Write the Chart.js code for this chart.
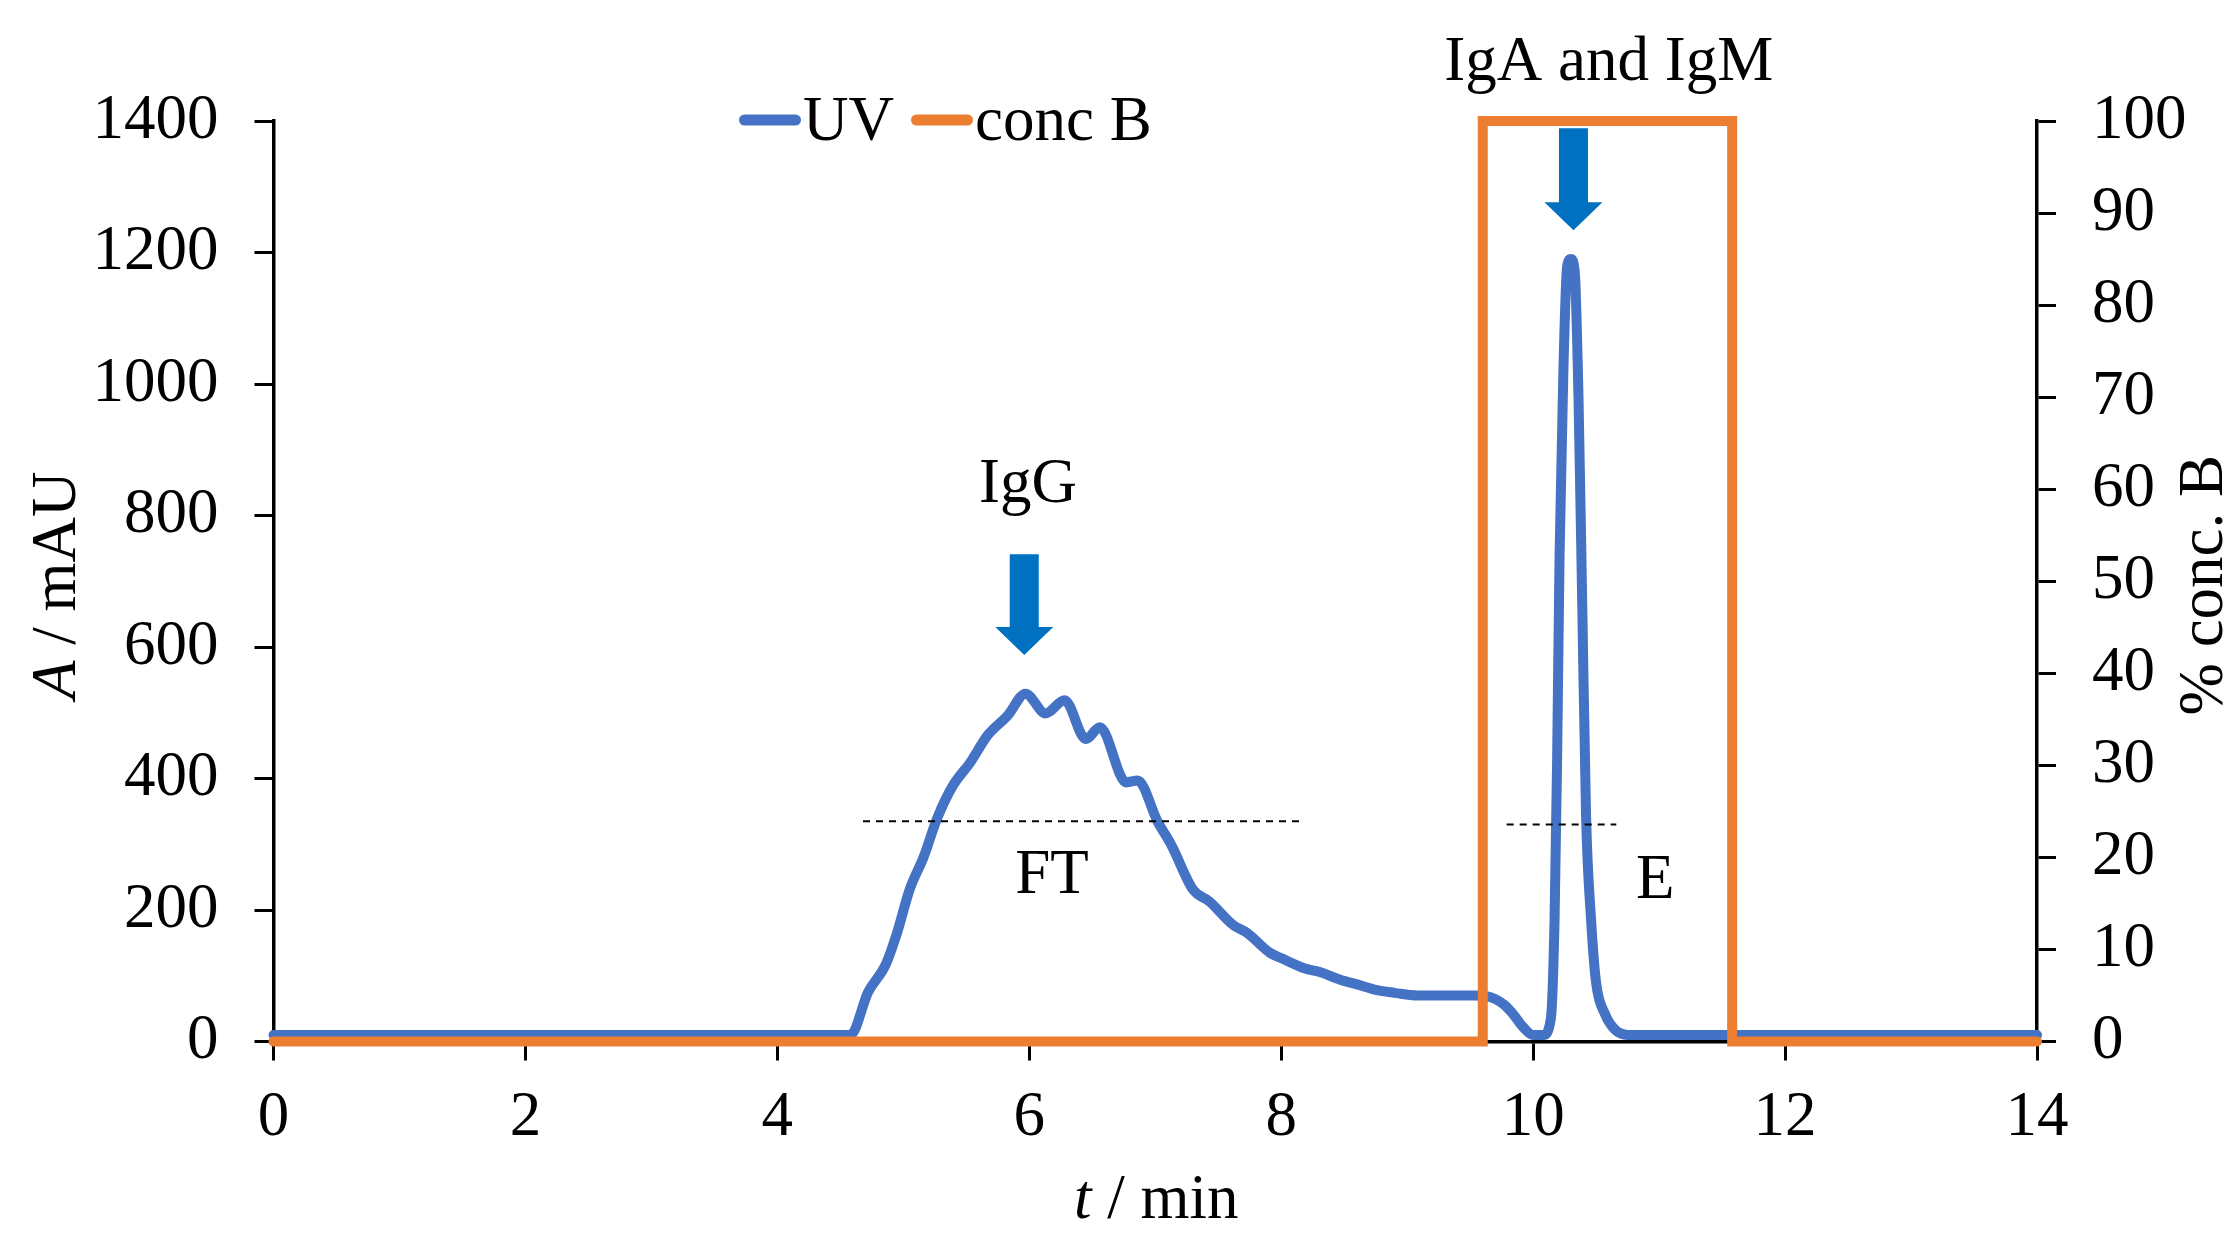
<!DOCTYPE html>
<html>
<head>
<meta charset="utf-8">
<title>UV and conc B chromatogram</title>
<script src="https://cdn.jsdelivr.net/npm/chart.js@4"></script>
<style>
  html, body { margin: 0; padding: 0; background: #fff; overflow: hidden; }
  canvas { display: block; }
</style>
</head>
<body>
<canvas id="chart" width="2232" height="1233"></canvas>
<script>
// UV trace (t / min, A / mAU)
const uvTime = [0, 4.58, 4.72, 4.86, 4.95, 5.05, 5.16, 5.27, 5.39, 5.53, 5.67, 5.83, 5.97, 6.13, 6.28,
  6.45, 6.56, 6.77, 6.86, 7.02, 7.13, 7.30, 7.43, 7.62, 7.73, 7.91, 8.01, 8.19, 8.30, 8.48, 8.58,
  8.76, 8.90, 9.08, 9.54, 9.63, 9.77, 9.84, 9.92, 10.0, 10.08, 10.14, 10.17, 10.19, 10.21, 10.24,
  10.27, 10.30, 10.33, 10.36, 10.39, 10.42, 10.46, 10.50, 10.57, 10.65, 10.75, 14];
const uvAbs = [10, 10, 75, 117, 165, 231, 280, 340, 388, 424, 466, 496, 529, 499, 519,
  460, 478, 394, 397, 334, 298, 231, 213, 177, 165, 135, 126, 111, 106, 93, 88,
  78, 74, 70, 70, 69, 56, 42, 22, 10, 10, 34, 185, 424, 742, 1020,
  1179, 1190, 1171, 980, 662, 344, 185, 89, 42, 18, 10, 10];

// conc B step (t / min, %)
const concTime = [0, 9.6, 9.6, 11.58, 11.58, 14];
const concB = [0, 0, 100, 100, 0, 0];

// axes: min, max, step
const xRange = [0, 14, 2];
const yRange = [0, 1400, 200];
const y2Range = [0, 100, 10];

// peak arrows (t, top A, tip A)
const arrowTime = [5.96, 10.32];
const arrowTop = [741, 1389];
const arrowTip = [588, 1234];

// text labels in data units
const noteText = ["IgG", "FT", "E", "IgA and IgM"];
const noteTime = [5.99, 6.18, 10.97, 10.60];
const noteAbs = [820, 226, 218, 1463];

// fraction cut lines
const cutStart = [4.68, 9.79];
const cutEnd = [8.16, 10.66];
const cutAbs = [335, 330];

const seriesNames = ["UV", "conc B"];
const seriesColors = ["#4472C4", "#ED7D31"];

(function(){
  const el = (id)=>document.getElementById(id);
  const FONT = "'Liberation Serif', 'Times New Roman', serif";
  const FS = 63;
  const W = 2232, H = 1233;
  const plot = { left: 273.5, right: 2037, top: 121, bottom: 1041.5 };

  const pts = (xs, ys)=>xs.map((x, i)=>({ x, y: ys[i] }));

  // draws runs of [text, italic] centred on 0 along the current baseline
  function mixed(ctx, runs){
    const widths = runs.map(([t, it])=>{
      ctx.font = `${it ? "italic " : ""}${FS}px ${FONT}`;
      return ctx.measureText(t).width;
    });
    let x = -widths.reduce((a, b)=>a + b, 0) / 2;
    runs.forEach(([t, it], i)=>{
      ctx.font = `${it ? "italic " : ""}${FS}px ${FONT}`;
      ctx.fillText(t, x, 0);
      x += widths[i];
    });
  }

  const decorations = {
    id: "decorations",
    afterDatasetsDraw(chart){
      const { ctx, scales } = chart;
      const x = scales.x, y = scales.y;
      ctx.save();

      // dashed cut lines
      ctx.strokeStyle = "#000";
      ctx.lineWidth = 2;
      ctx.setLineDash([7, 6]);
      cutAbs.forEach((a, i)=>{
        const py = y.getPixelForValue(a);
        ctx.beginPath();
        ctx.moveTo(x.getPixelForValue(cutStart[i]), py);
        ctx.lineTo(x.getPixelForValue(cutEnd[i]), py);
        ctx.stroke();
      });
      ctx.setLineDash([]);

      // arrows
      ctx.fillStyle = "#0070C0";
      arrowTime.forEach((t, i)=>{
        const cx = x.getPixelForValue(t);
        const top = y.getPixelForValue(arrowTop[i]);
        const tip = y.getPixelForValue(arrowTip[i]);
        const head = 28, shaft = 14.5, wing = 29;
        ctx.beginPath();
        ctx.moveTo(cx - shaft, top);
        ctx.lineTo(cx + shaft, top);
        ctx.lineTo(cx + shaft, tip - head);
        ctx.lineTo(cx + wing, tip - head);
        ctx.lineTo(cx, tip);
        ctx.lineTo(cx - wing, tip - head);
        ctx.lineTo(cx - shaft, tip - head);
        ctx.closePath();
        ctx.fill();
      });

      // notes
      ctx.fillStyle = "#000";
      ctx.font = `${FS}px ${FONT}`;
      ctx.textAlign = "center";
      ctx.textBaseline = "alphabetic";
      noteText.forEach((s, i)=>{
        ctx.fillText(s, x.getPixelForValue(noteTime[i]), y.getPixelForValue(noteAbs[i]));
      });
      ctx.restore();
    },
    afterDraw(chart){
      const { ctx, chartArea } = chart;
      ctx.save();
      ctx.fillStyle = "#000";
      ctx.textAlign = "left";
      ctx.textBaseline = "alphabetic";

      // legend
      let lx = 739;
      const ly = 120;
      seriesNames.forEach((name, i)=>{
        ctx.strokeStyle = seriesColors[i];
        ctx.lineWidth = 11;
        ctx.lineCap = "round";
        ctx.beginPath();
        ctx.moveTo(lx + 5.5, ly);
        ctx.lineTo(lx + 56.5, ly);
        ctx.stroke();
        ctx.font = `${FS}px ${FONT}`;
        ctx.fillText(name, lx + 64, ly + 20);
        lx += 64 + ctx.measureText(name).width + 17;
      });

      // axis titles
      const midY = (chartArea.top + chartArea.bottom) / 2 + 4;
      ctx.save();
      ctx.translate(75, midY);
      ctx.rotate(-Math.PI / 2);
      mixed(ctx, [["A", true], [" / mAU", false]]);
      ctx.restore();

      ctx.save();
      ctx.translate(2222, midY);
      ctx.rotate(-Math.PI / 2);
      mixed(ctx, [["% conc. B", false]]);
      ctx.restore();

      ctx.save();
      ctx.translate((chartArea.left + chartArea.right) / 2 + 1, 1218);
      mixed(ctx, [["t", true], [" / min", false]]);
      ctx.restore();

      ctx.restore();
    }
  };

  function axis(range, position, pad, fixSize){
    return {
      type: "linear",
      position,
      min: range[0],
      max: range[1],
      ticks: {
        stepSize: range[2],
        color: "#000",
        padding: pad,
        font: { family: FONT, size: FS },
        maxRotation: 0,
        autoSkip: false,
        callback: (v)=>String(v)
      },
      grid: {
        drawOnChartArea: false,
        drawTicks: true,
        tickLength: 19,
        tickWidth: 3,
        tickColor: "#000"
      },
      border: { display: true, color: "#000", width: 3.5 },
      title: { display: false },
      afterFit: fixSize
    };
  }

  function main(){
    Chart.defaults.font.family = FONT;

    new Chart(el("chart"), {
      type: "line",
      data: {
        datasets: [
          {
            label: seriesNames[1],
            data: pts(concTime, concB),
            yAxisID: "y2",
            borderColor: seriesColors[1],
            borderWidth: 10,
            tension: 0,
            pointRadius: 0,
            borderJoinStyle: "miter",
            borderCapStyle: "round",
            fill: false,
            clip: false,
            order: 0
          },
          {
            label: seriesNames[0],
            data: pts(uvTime, uvAbs),
            yAxisID: "y",
            borderColor: seriesColors[0],
            borderWidth: 10,
            cubicInterpolationMode: "monotone",
            pointRadius: 0,
            borderJoinStyle: "round",
            borderCapStyle: "round",
            fill: false,
            clip: false,
            order: 1
          }
        ]
      },
      options: {
        responsive: false,
        animation: false,
        devicePixelRatio: 1,
        layout: { padding: { top: plot.top, left: 0, right: 0, bottom: 0 } },
        plugins: {
          legend: { display: false },
          tooltip: { enabled: false }
        },
        scales: {
          x: axis(xRange, "bottom", 20, (s)=>{ s.height = H - plot.bottom; }),
          y: axis(yRange, "left", 36, (s)=>{ s.width = plot.left; }),
          y2: axis(y2Range, "right", 36, (s)=>{ s.width = W - plot.right; })
        }
      },
      plugins: [decorations]
    });
  }

  document.addEventListener("DOMContentLoaded", main);
})();
</script>
</body>
</html>
